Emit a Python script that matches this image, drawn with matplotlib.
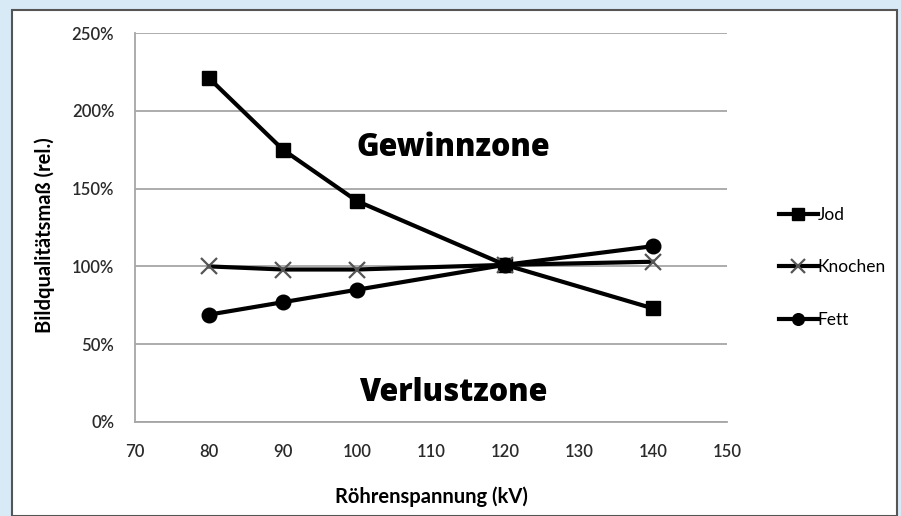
import matplotlib
matplotlib.use("Agg")
import matplotlib.pyplot as plt
from matplotlib.patches import Rectangle
from matplotlib.ticker import FuncFormatter

kv = [80, 90, 100, 120, 140]
jod = [221, 175, 142, 101, 73]
knochen = [100, 98, 98, 101, 103]
fett = [69, 77, 85, 101, 113]
x_ticks = [70, 80, 90, 100, 110, 120, 130, 140, 150]
y_ticks = [0, 50, 100, 150, 200, 250]

plt.rcParams['font.family'] = ['Lato', 'DejaVu Sans']

W, H = 901, 516
fig = plt.figure(figsize=(W / 100, H / 100), dpi=100)
fig.patch.set_facecolor('#d8eaf6')

# white panel with frame
panel = Rectangle((12 / W, 0), (897 - 12) / W, (H - 10) / H, transform=fig.transFigure,
                  facecolor='white', edgecolor='#555555', linewidth=1.5, zorder=-10)
fig.patches.append(panel)

ax = fig.add_axes([135 / W, 1 - 422 / H, (727 - 135) / W, (422 - 33) / H])
ax.set_zorder(1)
ax.set_facecolor('white')
ax.set_xlim(70, 150)
ax.set_ylim(0, 250)
ax.set_xticks(x_ticks)
ax.set_yticks(y_ticks)
ax.yaxis.set_major_formatter(FuncFormatter(lambda v, p: f"{int(v)}%"))
ax.grid(axis='y', color='#a6a6a6', linewidth=1.3)
ax.set_axisbelow(True)
for s in ['top', 'right']:
    ax.spines[s].set_visible(False)
for s in ['left', 'bottom']:
    ax.spines[s].set_color('#a6a6a6')
    ax.spines[s].set_linewidth(1.3)
ax.tick_params(length=0, labelsize=12, colors='#2a2a2a')
ax.tick_params(axis='x', pad=16)
ax.tick_params(axis='y', pad=15)
for lab in ax.get_xticklabels() + ax.get_yticklabels():
    lab.set_fontweight('semibold')

ax.plot(kv, jod, color='black', lw=3, marker='s', ms=10, label='Jod', zorder=3)
ax.plot(kv, knochen, color='black', lw=3, marker='x', ms=12, mew=1.6, mec='#555555',
        label='Knochen', zorder=3)
ax.plot(kv, fett, color='black', lw=3, marker='o', ms=10.5, label='Fett', zorder=3)

zone_font = ['Open Sans', 'DejaVu Sans']
ax.text(113, 176, 'Gewinnzone', fontsize=22, fontweight='heavy', family=zone_font,
        ha='center', va='center')
ax.text(113, 18.5, 'Verlustzone', fontsize=22, fontweight='heavy', family=zone_font,
        ha='center', va='center')

ax.set_xlabel('Röhrenspannung (kV)', fontsize=14.5, fontweight='bold', labelpad=19)
ax.set_ylabel('Bildqualitätsmaß (rel.)', fontsize=14.5, fontweight='bold')
ax.yaxis.set_label_coords(-80 / 592, (422 - 235) / 389)

leg = ax.legend(loc='center left', bbox_to_anchor=(1.062, 0.398), frameon=False,
                fontsize=12.5, handlelength=2.2, handletextpad=0.0, labelspacing=2.1,
                markerscale=0.8)

fig.savefig('out.png', dpi=100, facecolor=fig.get_facecolor())
